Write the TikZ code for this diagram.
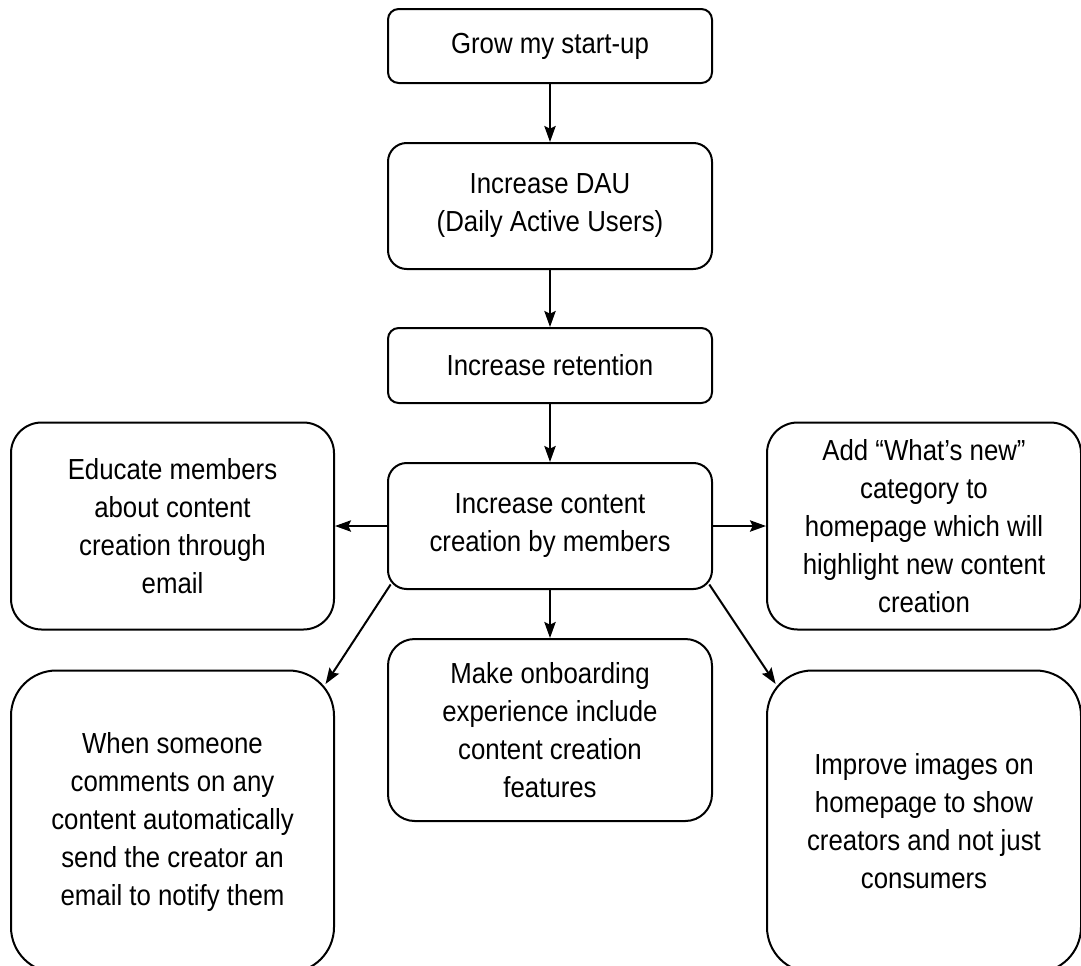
\documentclass[tikz,border=0pt]{standalone}
\usepackage{fontspec}
\usepackage{tikz}
\usetikzlibrary{positioning, arrows.meta}
\newfontfamily\goalfont[FakeStretch=0.89]{Liberation Sans}
\tikzset{
    goal/.style={draw, line width=1.5pt, align=center, inner sep=0pt,
        font=\goalfont\fontsize{21.75}{28.5}\selectfont},
    go/.style={-{Stealth[length=12pt, width=8.5pt, inset=2pt]}, line width=1.5pt}
}

\begin{document}
\begin{tikzpicture}
            \useasboundingbox (0,0) rectangle (810.75pt,-723.75pt);
            \node [goal, minimum width=243pt, minimum height=55.5pt, rounded corners=8pt] (Grow) at (412.5pt,-34.5pt) {Grow my start-up};
            \node [goal, minimum width=243pt, minimum height=94.5pt, rounded corners=14pt, below=43.5pt of Grow] (DAU) {Increase DAU\\(Daily Active Users)};
            \node [goal, minimum width=243pt, minimum height=56.25pt, rounded corners=8pt, below=42.75pt of DAU] (Ret) {Increase retention};
            \node [goal, minimum width=243pt, minimum height=94.5pt, rounded corners=14pt, below=43.5pt of Ret] (Content) {Increase content\\creation by members};
            \node [goal, minimum width=242.25pt, minimum height=155.25pt, rounded corners=23pt, left=39pt of Content] (Educ) {Educate members\\about content\\creation through\\email};
            \node [goal, minimum width=235.5pt, minimum height=155.25pt, rounded corners=23pt, right=39.75pt of Content] (New) {Add “What’s new”\\category to\\homepage which will\\highlight new content\\creation};
            \node [goal, minimum width=243pt, minimum height=136.5pt, rounded corners=20pt, below=36pt of Content] (Onb) {Make onboarding\\experience include\\content creation\\features};
            \node [goal, minimum width=242.25pt, minimum height=226.5pt, rounded corners=34pt, below=29.25pt of Educ] (Notify) {When someone\\comments on any\\content automatically\\send the creator an\\email to notify them};
            \node [goal, minimum width=235.5pt, minimum height=226.5pt, rounded corners=34pt, below=29.25pt of New] (Images) {Improve images on\\homepage to show\\creators and not just\\consumers};

            \draw[go] (Grow) -- (DAU);
            \draw[go] (DAU) -- (Ret);
            \draw[go] (Ret) -- (Content);
            \draw[go] (Content) -- (Educ);
            \draw[go] (Content) -- (New);
            \draw[go] (Content) -- (Onb);
            \draw[go, shorten <=-5pt, shorten >=-13pt] (Content.south west) -- (Notify.north east);
            \draw[go, shorten <=-5pt, shorten >=-13pt] (Content.south east) -- (Images.north west);
        \end{tikzpicture}
\end{document}
